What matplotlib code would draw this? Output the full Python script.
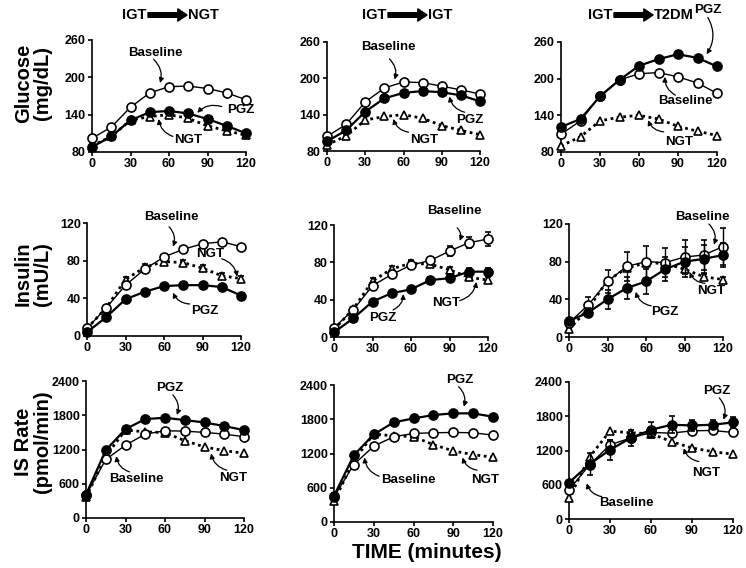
import matplotlib
matplotlib.use("Agg")
import matplotlib.pyplot as plt
from matplotlib.patches import FancyArrowPatch

plt.rcParams['font.family'] = ['Liberation Sans', 'DejaVu Sans']
plt.rcParams['font.weight'] = 'bold'

time = [0, 15, 30, 45, 60, 75, 90, 105, 120]
outcomes = ["NGT", "IGT", "T2DM"]
row_labels = ["Glucose\n(mg/dL)", "Insulin\n(mU/L)", "IS Rate\n(pmol/min)"]
row_ticks = [[80, 140, 200, 260], [0, 40, 80, 120], [0, 600, 1200, 1800, 2400]]

# NGT reference group, same curve in every column
glu_ngt = [90, 105, 131, 137, 140, 134, 122, 114, 107]
ins_ngt = [8, 30, 60, 73, 79, 78, 72, 64, 61]
ins_ngt_err = [1, 2, 3, 3, 3, 3, 3, 3, 3]
isr_ngt = [360, 1085, 1540, 1510, 1495, 1355, 1245, 1180, 1135]

# IGT -> NGT
glu_base_1 = [102, 120, 152, 175, 185, 186, 182, 175, 164]
glu_pgz_1 = [88, 105, 131, 144, 146, 142, 133, 122, 110]
ins_base_1 = [8, 30, 54, 71, 84, 92, 98, 100, 95]
ins_pgz_1 = [4, 20, 39, 47, 53, 54, 54, 52, 43]
isr_base_1 = [400, 1025, 1276, 1470, 1528, 1522, 1499, 1470, 1423]
isr_pgz_1 = [410, 1188, 1557, 1733, 1756, 1715, 1674, 1610, 1540]

# IGT -> IGT
glu_base_2 = [104, 124, 161, 184, 194, 193, 187, 181, 174]
glu_pgz_2 = [96, 114, 145, 167, 176, 179, 177, 172, 162]
ins_base_2 = [10, 29, 55, 67, 77, 82, 92, 101, 105]
ins_base_2_err = [1, 2, 3, 4, 4, 4, 5, 6, 7]
ins_pgz_2 = [5, 20, 38, 47, 51, 61, 63, 70, 70]
ins_pgz_2_err = [1, 2, 2, 3, 3, 3, 4, 4, 4]
isr_base_2 = [440, 1007, 1329, 1493, 1551, 1563, 1569, 1563, 1522]
isr_pgz_2 = [457, 1171, 1534, 1745, 1815, 1874, 1903, 1903, 1844]

# IGT -> T2DM
glu_base_3 = [109, 131, 172, 198, 208, 210, 203, 193, 176]
glu_pgz_3 = [121, 134, 171, 198, 221, 232, 240, 234, 220]
ins_base_3 = [15, 34, 59, 75, 80, 79, 85, 87, 96]
ins_base_3_err = [3, 8, 12, 15, 17, 15, 18, 16, 20]
ins_pgz_3 = [17, 26, 40, 52, 59, 72, 80, 83, 87]
ins_pgz_3_err = [3, 5, 10, 12, 13, 13, 16, 15, 13]
isr_base_3 = [509, 948, 1300, 1417, 1516, 1504, 1545, 1551, 1516]
isr_base_3_err = [30, 60, 80, 60, 60, 60, 60, 60, 60]
isr_pgz_3 = [638, 960, 1212, 1417, 1563, 1651, 1639, 1651, 1692]
isr_pgz_3_err = [40, 190, 175, 145, 145, 150, 95, 80, 100]

# (ngt, ngt_err, base, base_err, pgz, pgz_err) row by row, column by column
panels = [
    [(glu_ngt, None, glu_base_1, None, glu_pgz_1, None),
     (glu_ngt, None, glu_base_2, None, glu_pgz_2, None),
     (glu_ngt, None, glu_base_3, None, glu_pgz_3, None)],
    [(ins_ngt, ins_ngt_err, ins_base_1, None, ins_pgz_1, None),
     (ins_ngt, ins_ngt_err, ins_base_2, ins_base_2_err, ins_pgz_2, ins_pgz_2_err),
     (ins_ngt, ins_ngt_err, ins_base_3, ins_base_3_err, ins_pgz_3, ins_pgz_3_err)],
    [(isr_ngt, None, isr_base_1, None, isr_pgz_1, None),
     (isr_ngt, None, isr_base_2, None, isr_pgz_2, None),
     (isr_ngt, None, isr_base_3, isr_base_3_err, isr_pgz_3, isr_pgz_3_err)],
]

# label, text x/y, arrow start x/y, arrow tip x/y, curvature
notes = [
    [[("Baseline", 49, 239, 48, 229, 53, 191, -0.3),
      ("PGZ", 116, 147, 101, 153, 82, 143, 0.3),
      ("NGT", 75, 100, 63, 105, 52, 133, -0.3)],
     [("Baseline", 48, 252, 49, 232, 53, 198, -0.3),
      ("PGZ", 112, 132, 108, 144, 96, 170, -0.3),
      ("NGT", 76, 98, 64, 111, 52, 133, -0.3)],
     [("PGZ", 113, 313, 113, 300, 112, 240, -0.3),
      ("Baseline", 96, 164, 88, 173, 80, 203, -0.3),
      ("NGT", 91, 97, 79, 113, 67, 132, -0.3)]],
    [[("Baseline", 66, 126, 64, 116, 67, 95, -0.3),
      ("NGT", 96, 87, 105, 82, 117, 63, -0.3),
      ("PGZ", 92, 27, 80, 34, 67, 46, -0.3)],
     [("Baseline", 94, 135, 96, 117, 98, 103, -0.3),
      ("PGZ", 38, 20, 46, 29, 54, 46, 0.3),
      ("NGT", 87, 36, 98, 39, 111, 59, 0.3)],
     [("Baseline", 104, 127, 109, 120, 113, 98, -0.3),
      ("PGZ", 75, 27, 64, 33, 52, 48, -0.3),
      ("NGT", 111, 49, 106, 57, 94, 69, -0.3)]],
    [[("PGZ", 64, 2271, 66, 2155, 69, 1805, -0.3),
      ("Baseline", 38, 691, 33, 808, 23, 1083, -0.3),
      ("NGT", 112, 703, 107, 837, 95, 1130, -0.3)],
     [("PGZ", 95, 2488, 94, 2371, 98, 2020, -0.3),
      ("Baseline", 56, 744, 34, 802, 23, 1130, -0.3),
      ("NGT", 114, 732, 108, 908, 97, 1130, -0.3)],
     [("PGZ", 108, 2236, 110, 2120, 113, 1740, -0.3),
      ("NGT", 100, 814, 95, 1007, 84, 1241, -0.3),
      ("Baseline", 42, 287, 24, 392, 13, 626, -0.3)]],
]

W, H = 746, 568
fig = plt.figure(figsize=(W / 100, H / 100), dpi=100)

# axes boxes in pixels: left, top, right, bottom
boxes = [
    [(92, 40, 246, 152), (327, 42, 480, 151), (561, 42, 717, 152)],
    [(87, 223, 241, 336), (334, 225, 488, 337), (569, 224, 723, 337)],
    [(86, 381, 244, 518), (334, 385, 493, 522), (569, 382, 733, 519)],
]

lw_axis = 1.2
for r in range(3):
    for c in range(3):
        l, t, rr, b = boxes[r][c]
        ax = fig.add_axes([l / W, 1 - b / H, (rr - l) / W, (b - t) / H])
        ngt, ngt_e, base, base_e, pgz, pgz_e = panels[r][c]

        ax.errorbar(time, ngt, yerr=ngt_e, color='k', ls=(0, (1, 1.3)), lw=2,
                    marker='^', ms=6, mfc='white', mec='k', mew=1.2,
                    ecolor='k', elinewidth=1, capsize=2, clip_on=False, zorder=3)
        ax.errorbar(time, base, yerr=base_e, color='k', ls='-', lw=1,
                    marker='o', ms=6.5, mfc='white', mec='k', mew=1.2,
                    ecolor='k', elinewidth=1, capsize=2, clip_on=False, zorder=4)
        ax.errorbar(time, pgz, yerr=pgz_e, color='k', ls='-', lw=1.6,
                    marker='o', ms=6.5, mfc='k', mec='k', mew=1.2,
                    ecolor='k', elinewidth=1, capsize=2, clip_on=False, zorder=5)

        ticks = row_ticks[r]
        ax.set_xlim(0, 120)
        ax.set_ylim(ticks[0], ticks[-1])
        ax.set_xticks([0, 30, 60, 90, 120])
        ax.set_yticks(ticks)
        for s in ['top', 'right']:
            ax.spines[s].set_visible(False)
        for s in ['left', 'bottom']:
            ax.spines[s].set_linewidth(lw_axis)
        ax.tick_params(direction='out', length=3, width=lw_axis, labelsize=9,
                       pad=1.5)
        for lab in ax.get_xticklabels() + ax.get_yticklabels():
            lab.set_fontweight('bold')

        for txt, tx, ty, sx, sy, ex, ey, rad in notes[r][c]:
            ax.text(tx, ty, txt, ha='center', va='center', fontsize=9.5,
                    fontweight='bold', clip_on=False)
            ax.annotate('', xy=(ex, ey), xytext=(sx, sy), annotation_clip=False,
                        arrowprops=dict(arrowstyle='-|>', lw=0.9, color='k',
                                        connectionstyle=f'arc3,rad={rad}',
                                        mutation_scale=7, shrinkA=0, shrinkB=0))

# row titles
row_y = [83, 274, 442]
for lab, y in zip(row_labels, row_y):
    fig.text(33 / W, 1 - y / H, lab, rotation=90, ha='center', va='center',
             fontsize=14.5, fontweight='bold', linespacing=1.0)

# column headers: IGT -> outcome
arrow_mid = [167, 407, 633]
for out, xm in zip(outcomes, arrow_mid):
    yh = 1 - 15 / H
    fig.text((xm - 21) / W, yh, "IGT", ha='right', va='center', fontsize=10.5,
             fontweight='bold')
    fig.text((xm + 21) / W, yh, out, ha='left', va='center', fontsize=10.5,
             fontweight='bold')
    fig.add_artist(FancyArrowPatch(((xm - 19) / W, yh), ((xm + 20) / W, yh),
                                   transform=fig.transFigure, color='k',
                                   arrowstyle='simple,head_length=0.6,head_width=0.8,tail_width=0.3',
                                   mutation_scale=11, shrinkA=0, shrinkB=0))

fig.text(427 / W, 1 - 552 / H, "TIME (minutes)", ha='center', va='center',
         fontsize=15, fontweight='bold')

fig.savefig("out.png", dpi=100)
